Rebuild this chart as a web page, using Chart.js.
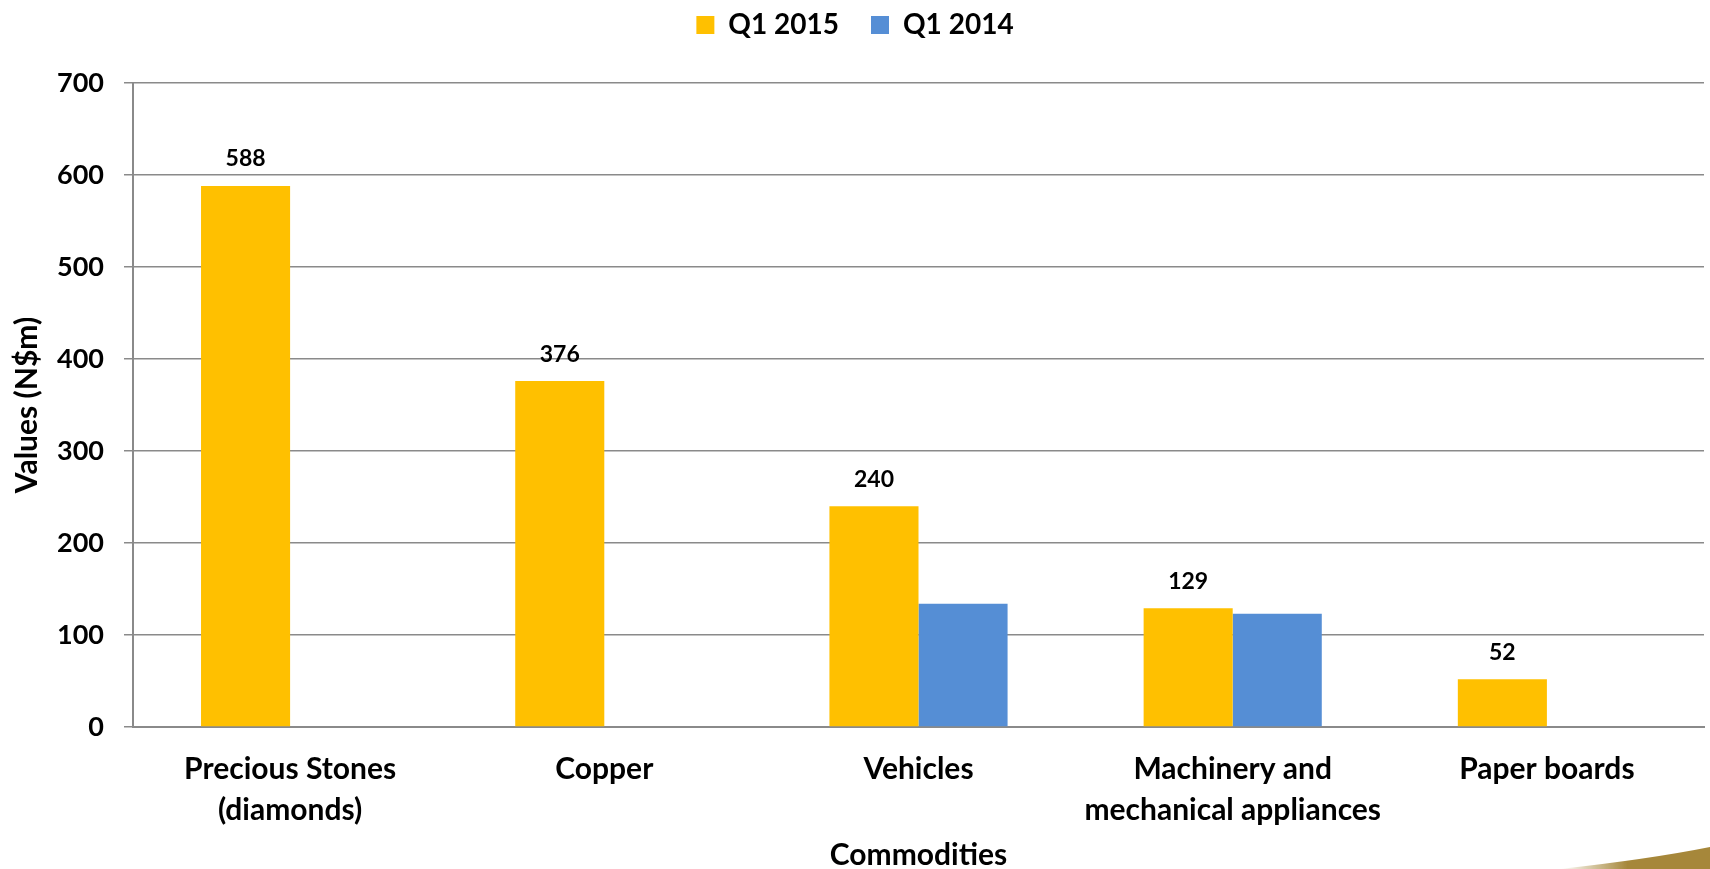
<!DOCTYPE html>
<html>
<head>
<meta charset="utf-8">
<script src="https://cdn.jsdelivr.net/npm/chart.js@4/dist/chart.umd.min.js"></script>
<style>
  html, body { margin: 0; padding: 0; background: #fff; }
  #wrap { width: 1710px; height: 869px; }
</style>
</head>
<body>
<div id="wrap"><canvas id="chartExport" width="1710" height="869"></canvas></div>
<script>
// ── DATA ─────────────────────────────────────────────
const commodities = [
  ['Precious Stones', '(diamonds)'],
  'Copper',
  'Vehicles',
  ['Machinery and', 'mechanical appliances'],
  'Paper boards'
];
const seriesNames = ['Q1 2015', 'Q1 2014'];
const valoresQ1_2015 = [588, 376, 240, 129, 52];
const valoresQ1_2014 = [null, null, 134, 123, null];
const yTicks = [0, 100, 200, 300, 400, 500, 600, 700];

const FONT = 'Lato, "Open Sans", sans-serif';
const GRID = '#8a8a8a';

// ── PLUGINS ──────────────────────────────────────────
// fixed legend band so the plot top lines up, legend drawn a bit higher
const legendBand = {
  id: 'legendBand',
  beforeInit(chart) {
    const fit = chart.legend.fit;
    chart.legend.fit = function () { fit.call(this); this.height = 83; };
    const draw = chart.legend.draw;
    chart.legend.draw = function () {
      const c = this.ctx;
      c.save();
      c.translate(3, -21);
      draw.apply(this, arguments);
      c.restore();
    };
  }
};

// value labels above the Q1 2015 bars only
const etiquetas = {
  id: 'etiquetas',
  afterDatasetsDraw(chart) {
    const { ctx } = chart;
    const meta = chart.getDatasetMeta(0);
    ctx.save();
    ctx.font = 'bold 23px ' + FONT;
    ctx.fillStyle = '#000';
    ctx.textAlign = 'center';
    ctx.textBaseline = 'middle';
    meta.data.forEach((bar, i) => {
      ctx.fillText(String(valoresQ1_2015[i]), bar.x, bar.y - 27);
    });
    ctx.restore();
  }
};

// gold swoosh of the slide, bottom right corner
const swoosh = {
  id: 'swoosh',
  afterDraw(chart) {
    const { ctx, width, height } = chart;
    ctx.save();
    const g = ctx.createLinearGradient(width - 150, 0, width, 0);
    g.addColorStop(0, 'rgba(166,135,58,0)');
    g.addColorStop(0.45, 'rgba(166,135,58,1)');
    g.addColorStop(1, '#a6873a');
    ctx.fillStyle = g;
    ctx.beginPath();
    ctx.moveTo(width - 150, height);
    ctx.quadraticCurveTo(width - 60, height - 10, width, height - 22);
    ctx.lineTo(width, height);
    ctx.closePath();
    ctx.fill();
    ctx.restore();
  }
};

// ── CHART ────────────────────────────────────────────
new Chart(document.getElementById('chartExport').getContext('2d'), {
  type: 'bar',
  data: {
    labels: commodities,
    datasets: [
      { label: seriesNames[0], data: valoresQ1_2015, backgroundColor: '#FFC000',
        categoryPercentage: 0.567, barPercentage: 1.0 },
      { label: seriesNames[1], data: valoresQ1_2014, backgroundColor: '#558ED5',
        categoryPercentage: 0.567, barPercentage: 1.0 },
    ]
  },
  options: {
    responsive: false,
    animation: false,
    layout: { padding: { left: 0, right: 6, top: 0, bottom: 0 } },
    plugins: {
      legend: {
        position: 'top',
        labels: {
          font: { family: FONT, size: 28, weight: 'bold' },
          color: '#000',
          boxWidth: 18, boxHeight: 18,
          padding: 32
        }
      },
      tooltip: { enabled: false }
    },
    scales: {
      x: {
        grid: { display: false, drawTicks: false },
        border: { display: true, color: GRID, width: 2 },
        ticks: { color: '#000', padding: 22, maxRotation: 0, autoSkip: false,
                 font: { family: FONT, size: 30, weight: 'bold', lineHeight: 1.36 } },
        title: { display: true, text: 'Commodities', color: '#000',
                 font: { family: FONT, size: 30, weight: 'bold', lineHeight: 0.9 }, padding: 0 },
        afterFit(scale) { scale.height = 142; }
      },
      y: {
        min: 0, max: 700,
        afterBuildTicks(scale) { scale.ticks = yTicks.map(v => ({ value: v })); },
        grid: { color: GRID, lineWidth: 1.5, tickLength: 9 },
        border: { display: true, color: GRID, width: 2 },
        ticks: { color: '#000', padding: 20,
                 font: { family: FONT, size: 27, weight: 'bold' } },
        title: { display: true, text: 'Values (N$m)', color: '#000',
                 font: { family: FONT, size: 30, weight: 'bold' }, padding: { top: 9 } },
        afterFit(scale) { scale.width = 133; }
      }
    }
  },
  plugins: [legendBand, etiquetas, swoosh]
});
</script>
</body>
</html>
